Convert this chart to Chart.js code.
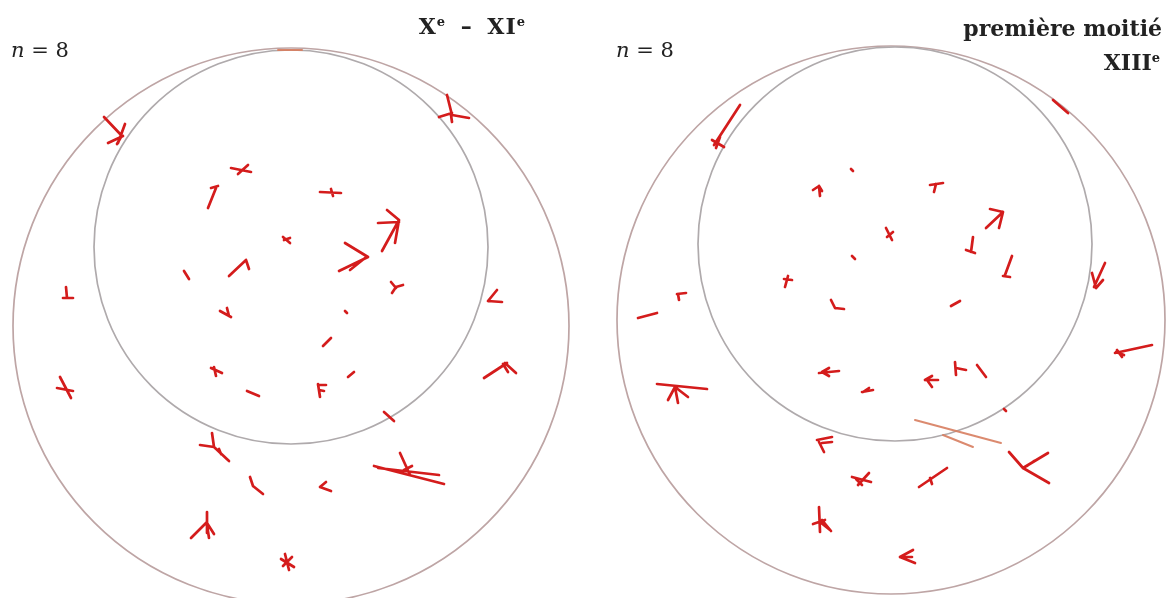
<!DOCTYPE html>
<html>
<head>
<meta charset="utf-8">
<script src="https://cdn.jsdelivr.net/npm/chart.js@4/dist/chart.umd.min.js"></script>
<style>
  body { margin: 0; background: #fff; }
  #wrap { position: relative; width: 1168px; height: 598px; overflow: hidden; }
  canvas { position: absolute; top: 0; }
  .lab { position: absolute; font-family: "DejaVu Serif", "Liberation Serif", serif; color: #222; white-space: nowrap; line-height: 1; }
  .n { font-size: 21px; }
  .n i { font-style: italic; }
  .ttl { font-weight: bold; font-size: 22px; text-align: right; }
  .ttl sup { font-size: 13px; vertical-align: 8px; }
  .wide { word-spacing: 6px; letter-spacing: 1px; }
</style>
</head>
<body>
<div id="wrap">
  <canvas id="left" width="584" height="598" style="left:0"></canvas>
  <canvas id="right" width="584" height="598" style="left:584px"></canvas>
  <div class="lab n" style="left:11px;top:40px"><i>n</i> = 8</div>
  <div class="lab ttl wide" style="right:642px;top:15px">X<sup>e</sup> – XI<sup>e</sup></div>
  <div class="lab n" style="left:616px;top:40px"><i>n</i> = 8</div>
  <div class="lab ttl" style="right:6px;top:17px">première moitié</div>
  <div class="lab ttl" style="right:8px;top:51px">XIII<sup>e</sup></div>
</div>
<script>
// circles: [cx, cy, r] in panel units (1 unit = 1 px, y downwards)
const leftRings = [[291, 326, 278], [291, 247, 197]]
const rightRings = [[307, 320, 274], [311, 244, 197]]

// strokes: [x1, y1, x2, y2]
const leftStrokes = [
  [104, 117, 122, 136], [125, 124, 118, 143], [108, 143, 123, 136], [121, 137, 117, 144],
  [447, 95, 452, 115], [439, 117, 452, 113], [452, 115, 469, 118], [451, 115, 452, 122],
  [231, 168, 251, 172], [238, 174, 248, 165],
  [208, 208, 216, 188], [211, 188, 218, 186],
  [320, 192, 341, 193], [331, 189, 333, 196],
  [382, 251, 399, 220], [378, 223, 399, 222], [387, 210, 399, 220], [399, 220, 395, 243],
  [283, 237, 290, 243], [284, 240, 290, 238],
  [345, 243, 368, 257], [339, 271, 368, 257], [350, 270, 365, 258],
  [229, 276, 246, 260], [246, 260, 249, 269],
  [184, 271, 189, 279],
  [391, 282, 396, 288], [403, 285, 396, 287], [396, 287, 392, 293],
  [66, 287, 67, 298], [63, 298, 73, 298],
  [488, 301, 502, 302], [497, 290, 488, 301],
  [220, 311, 231, 317], [227, 308, 229, 316],
  [345, 311, 347, 313],
  [323, 346, 331, 338],
  [211, 368, 222, 373], [216, 376, 214, 367],
  [348, 377, 354, 372],
  [484, 378, 507, 363], [505, 363, 516, 373], [503, 364, 508, 372],
  [60, 377, 71, 398], [57, 388, 73, 391],
  [247, 391, 259, 396],
  [318, 384, 320, 397], [318, 385, 326, 385], [319, 390, 324, 391],
  [384, 412, 394, 421],
  [212, 433, 214, 447], [200, 445, 214, 447], [214, 447, 229, 461], [219, 449, 221, 454],
  [250, 477, 253, 486], [253, 486, 263, 494],
  [320, 487, 331, 491], [320, 487, 326, 482],
  [374, 466, 444, 484], [378, 468, 439, 475], [400, 453, 410, 475], [404, 470, 412, 466],
  [191, 538, 207, 522], [207, 512, 207, 533], [207, 523, 214, 534], [207, 525, 209, 538],
  [281, 559, 294, 567], [285, 554, 289, 570], [292, 557, 283, 566]
]
const leftPale = [[278, 50, 302, 50]]

const rightStrokes = [
  [156, 105, 130, 145], [128, 140, 140, 147], [132, 148, 136, 137],
  [469, 100, 484, 113],
  [267, 169, 269, 171],
  [229, 190, 235, 186], [235, 186, 238, 191], [235, 186, 236, 196],
  [346, 185, 359, 183], [352, 184, 350, 192],
  [402, 228, 419, 212], [406, 209, 419, 212], [419, 212, 415, 228],
  [302, 228, 308, 240], [303, 237, 309, 232],
  [389, 237, 387, 252], [382, 250, 391, 253],
  [268, 256, 271, 259],
  [428, 256, 421, 275], [419, 276, 426, 277],
  [201, 287, 204, 276], [200, 279, 208, 280],
  [521, 263, 510, 287], [508, 273, 512, 288], [512, 288, 519, 280],
  [93, 294, 102, 293], [94, 294, 95, 300],
  [54, 318, 73, 313],
  [247, 300, 251, 308], [251, 308, 260, 309],
  [367, 306, 376, 301],
  [531, 353, 568, 345], [532, 352, 540, 355], [533, 350, 538, 357],
  [235, 373, 255, 371], [238, 372, 245, 368], [238, 372, 245, 376],
  [341, 380, 354, 380], [341, 380, 348, 376], [343, 380, 348, 387],
  [371, 362, 372, 375], [372, 368, 382, 370],
  [393, 365, 402, 377],
  [278, 392, 289, 390], [279, 392, 285, 388],
  [73, 384, 123, 389], [91, 387, 84, 400], [91, 387, 94, 403], [91, 387, 104, 397],
  [420, 409, 422, 411],
  [233, 440, 248, 437], [235, 442, 240, 452], [238, 443, 248, 442],
  [425, 452, 439, 468], [439, 468, 464, 453], [439, 468, 465, 483], [443, 466, 450, 461],
  [268, 477, 287, 482], [274, 485, 285, 473], [272, 479, 278, 485],
  [335, 487, 363, 468], [346, 478, 348, 484],
  [235, 507, 236, 532], [229, 524, 241, 520], [236, 522, 246, 530], [238, 520, 247, 531],
  [316, 557, 331, 563], [316, 557, 329, 550], [318, 557, 328, 557]
]
const rightPale = [[331, 420, 417, 443], [359, 435, 389, 447]]

function toPoints(strokes) {
  const pts = []
  strokes.forEach((s) => {
    pts.push({ x: s[0], y: s[1] }, { x: s[2], y: s[3] }, { x: NaN, y: NaN })
  })
  return pts
}

const ringPlugin = {
  id: 'rings',
  beforeDatasetsDraw(chart, args, opts) {
    const { ctx, scales } = chart
    ctx.save()
    opts.list.forEach((c, i) => {
      const px = scales.x.getPixelForValue(c[0])
      const py = scales.y.getPixelForValue(c[1])
      const r = scales.x.getPixelForValue(c[0] + c[2]) - px
      ctx.beginPath()
      ctx.arc(px, py, r, 0, 2 * Math.PI)
      ctx.strokeStyle = i === 0 ? 'rgb(190,165,165)' : 'rgb(175,170,172)'
      ctx.lineWidth = 1.7
      ctx.stroke()
    })
    ctx.restore()
  }
}

function makePanel(id, rings, strokes, pale) {
  return new Chart(document.getElementById(id).getContext('2d'), {
    type: 'scatter',
    data: {
      datasets: [
        {
          data: toPoints(pale),
          showLine: true,
          spanGaps: false,
          borderColor: 'rgba(215,125,95,0.9)',
          borderWidth: 2,
          pointRadius: 0,
          borderCapStyle: 'round'
        },
        {
          data: toPoints(strokes),
          showLine: true,
          spanGaps: false,
          borderColor: '#d41c1c',
          borderWidth: 2.7,
          pointRadius: 0,
          borderCapStyle: 'round',
          borderJoinStyle: 'round'
        }
      ]
    },
    options: {
      responsive: false,
      animation: false,
      layout: { padding: 0 },
      plugins: {
        legend: { display: false },
        tooltip: { enabled: false },
        rings: { list: rings }
      },
      scales: {
        x: { type: 'linear', min: 0, max: 584, display: false },
        y: { type: 'linear', min: 0, max: 598, reverse: true, display: false }
      }
    },
    plugins: [ringPlugin]
  })
}

makePanel('left', leftRings, leftStrokes, leftPale)
makePanel('right', rightRings, rightStrokes, rightPale)
</script>
</body>
</html>
